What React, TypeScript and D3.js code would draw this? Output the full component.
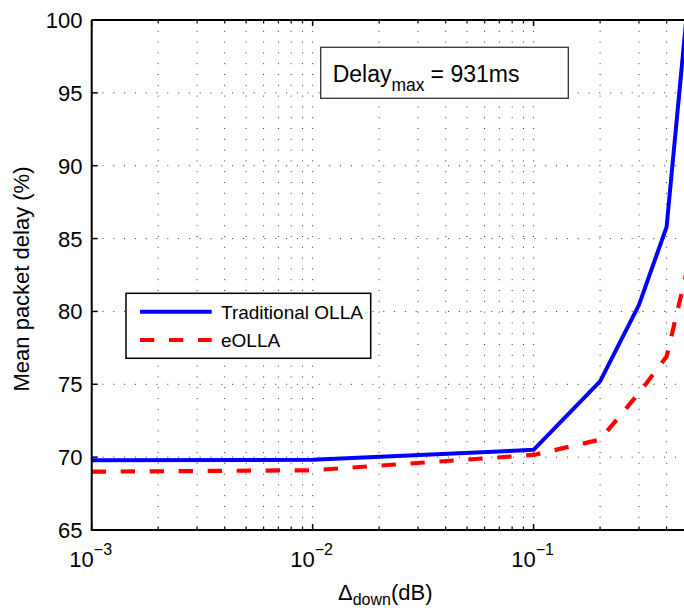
import React from "react";
import * as d3 from "d3";

const xValues = [0.001, 0.01, 0.1, 0.2, 0.3, 0.4, 0.5];
const traditionalOLLA = [69.78, 69.82, 70.5, 75.2, 80.45, 85.8, 101.3];
const eOLLA = [69.0, 69.1, 70.15, 71.2, 74.4, 76.9, 83.1];
const yTicks = [65, 70, 75, 80, 85, 90, 95, 100];
const xMajorExps = [-3, -2, -1];

const W = 684;
const H = 608;
const left = 91.7;
const right = 688;
const top = 20;
const bottom = 530;

const FONT = "'Liberation Sans', Arial, Helvetica, sans-serif";

export default function App() {
  const x = d3.scaleLog().domain([0.001, 0.5]).range([left, right]);
  const y = d3.scaleLinear().domain([65, 100]).range([bottom, top]);

  const minor: number[] = [];
  [0.001, 0.01, 0.1].forEach((b) => {
    for (let k = 2; k <= 9; k++) {
      const v = b * k;
      if (v <= 0.5 + 1e-9) minor.push(v);
    }
  });
  const majors = xMajorExps.map((e) => Math.pow(10, e));

  const line = d3
    .line<number>()
    .x((_, i) => x(xValues[i]))
    .y((d) => y(d));

  const gridStyle = {
    stroke: "#333",
    strokeWidth: 1,
    strokeDasharray: "1 9.8",
  };

  return (
    <svg
      width={W}
      height={H}
      style={{ position: "absolute", left: 0, top: 0, background: "#fff" }}
      fontFamily={FONT}
    >
      <defs>
        <clipPath id="plotClip">
          <rect x={left} y={top} width={right - left} height={bottom - top} />
        </clipPath>
      </defs>
      <rect x={0} y={0} width={W} height={H} fill="#fff" />
      {/* grid */}
      {[...majors.slice(1), ...minor].map((v, i) => (
        <line key={"vg" + i} x1={x(v)} x2={x(v)} y1={top} y2={bottom} {...gridStyle} />
      ))}
      {yTicks.slice(1, -1).map((v) => (
        <line key={"hg" + v} x1={left} x2={right} y1={y(v)} y2={y(v)} {...gridStyle} />
      ))}
      {/* ticks */}
      {majors.map((v) => (
        <g key={"mt" + v}>
          <line x1={x(v)} x2={x(v)} y1={bottom} y2={bottom - 6} stroke="#000" strokeWidth={1.5} />
          <line x1={x(v)} x2={x(v)} y1={top} y2={top + 6} stroke="#000" strokeWidth={1.5} />
        </g>
      ))}
      {minor.map((v, i) => (
        <g key={"mn" + i}>
          <line x1={x(v)} x2={x(v)} y1={bottom} y2={bottom - 3.5} stroke="#000" strokeWidth={1.2} />
          <line x1={x(v)} x2={x(v)} y1={top} y2={top + 3.5} stroke="#000" strokeWidth={1.2} />
        </g>
      ))}
      {yTicks.map((v) => (
        <line key={"yt" + v} x1={left} x2={left + 6} y1={y(v)} y2={y(v)} stroke="#000" strokeWidth={1.5} />
      ))}
      {/* data */}
      <g clipPath="url(#plotClip)">
        <path d={line(traditionalOLLA) || ""} fill="none" stroke="#0000ff" strokeWidth={4} strokeLinejoin="round" />
        <path
          d={line(eOLLA) || ""}
          fill="none"
          stroke="#ff0000"
          strokeWidth={4.2}
          strokeDasharray="14.3 14.7"
        />
      </g>
      {/* axes box */}
      <path
        d={`M${left},${top} L${left},${bottom} L${right},${bottom} M${left},${top} L${right},${top}`}
        fill="none"
        stroke="#000"
        strokeWidth={2}
      />
      {/* y tick labels */}
      {yTicks.map((v) => (
        <text key={"yl" + v} x={82.5} y={y(v) + 8} textAnchor="end" fontSize={22} fill="#000">
          {v}
        </text>
      ))}
      {/* x tick labels */}
      {xMajorExps.map((e) => (
        <text key={"xl" + e} x={x(Math.pow(10, e)) - 1} y={566.5} textAnchor="middle" fontSize={22} fill="#000">
          <tspan>10</tspan>
          <tspan dy={-12} fontSize={16}>
            {"\u2212" + Math.abs(e)}
          </tspan>
        </text>
      ))}
      {/* axis labels */}
      <text x={338} y={600} fontSize={22} fill="#000">
        <tspan>Δ</tspan>
        <tspan dy={5} fontSize={16}>down</tspan>
        <tspan dy={-5}>(dB)</tspan>
      </text>
      <text
        transform={`translate(29,${279}) rotate(-90)`}
        textAnchor="middle"
        fontSize={22}
        fill="#000"
      >
        Mean packet delay (%)
      </text>
      {/* annotation */}
      <rect x={320.7} y={47.3} width={247.6} height={51} fill="#fff" stroke="#333" strokeWidth={1.3} />
      <text x={332.7} y={82} fontSize={23} fill="#000">
        <tspan>Delay</tspan>
        <tspan dy={9} fontSize={17.5}>max</tspan>
        <tspan dy={-9} dx={6}>{"= 931ms"}</tspan>
      </text>
      {/* legend */}
      <rect x={126} y={293.3} width={244.7} height={65} fill="#fff" stroke="#000" strokeWidth={1.5} />
      <line x1={140} x2={211.7} y1={311.7} y2={311.7} stroke="#0000ff" strokeWidth={4} />
      <text x={221} y={318.5} fontSize={19} fill="#000">
        Traditional OLLA
      </text>
      <line
        x1={140}
        x2={211.7}
        y1={340}
        y2={340}
        stroke="#ff0000"
        strokeWidth={4.2}
        strokeDasharray="14.3 14.7"
      />
      <text x={221} y={347} fontSize={19} fill="#000">
        eOLLA
      </text>
    </svg>
  );
}
